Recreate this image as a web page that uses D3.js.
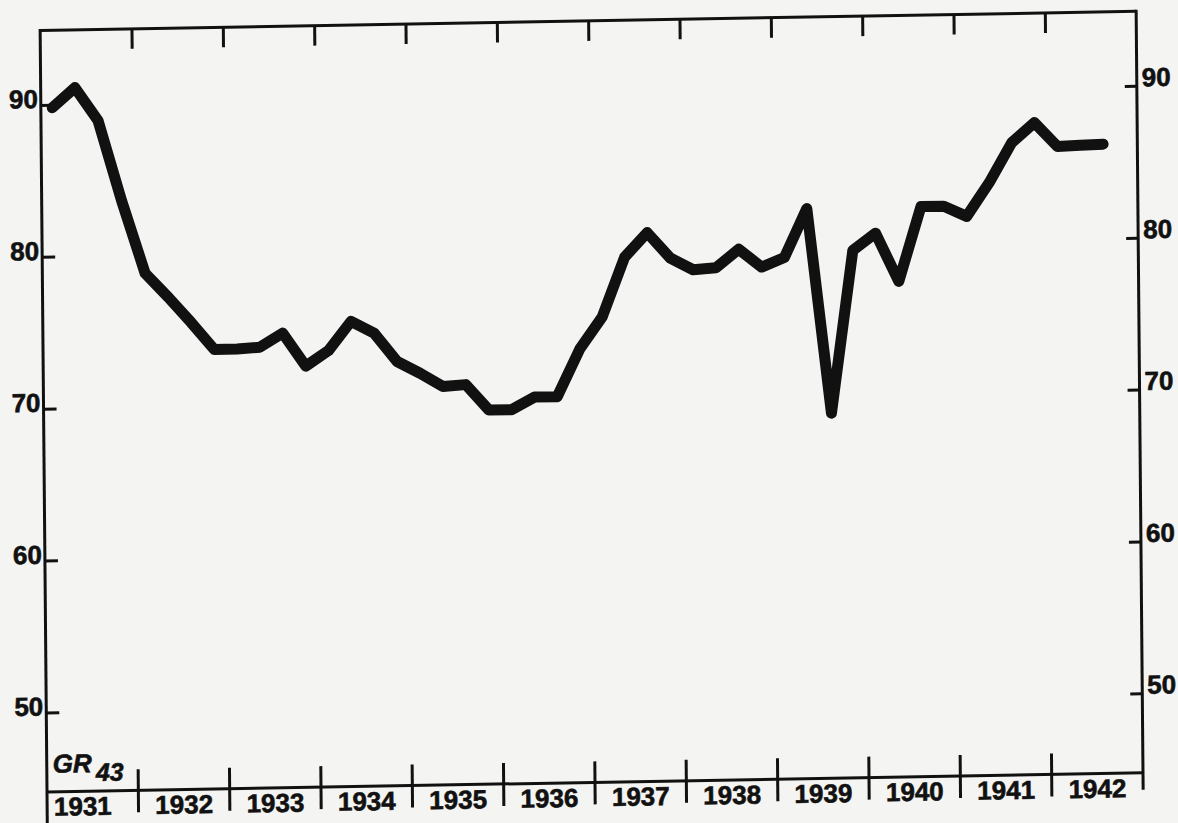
<!DOCTYPE html>
<html>
<head>
<meta charset="utf-8">
<script src="https://cdn.jsdelivr.net/npm/d3@7"></script>
<style>
  html, body { margin: 0; padding: 0; background: #f4f4f2; overflow: hidden; }
  svg { display: block; }
</style>
</head>
<body>
<svg id="chart"></svg>
<script>
// Years on the bottom axis, one row of quarterly values per year
const years = [1931, 1932, 1933, 1934, 1935, 1936, 1937, 1938, 1939, 1940, 1941, 1942];
const quarterValues = [
  [89.8, 91.1, 88.9, 83.6],
  [78.8, 77.2, 75.5, 73.7],
  [73.7, 73.8, 74.7, 72.5],
  [73.5, 75.4, 74.6, 72.7],
  [71.9, 71.0, 71.1, 69.4],
  [69.4, 70.2, 70.2, 73.3],
  [75.4, 79.3, 80.9, 79.2],
  [78.4, 78.5, 79.7, 78.5],
  [79.1, 82.3, 68.8, 79.5],
  [80.6, 77.4, 82.3, 82.3],
  [81.6, 83.8, 86.4, 87.7],
  [86.1, 86.15, 86.2]
];
const yTicks = [50, 60, 70, 80, 90];
const label = "GR";
const labelSub = "43";

const width = 1178, height = 823;
const font = "'Liberation Sans', Arial, sans-serif";
const ink = "#111";

const svg = d3.select("#chart").attr("width", width).attr("height", height);
svg.append("rect").attr("width", width).attr("height", height).attr("fill", "#f4f4f2");

// the scanned drawing is slightly tilted, so everything sits in a sheared group
const g = svg.append("g")
  .attr("transform", "translate(42,792) matrix(1,-0.0174,0.009,1,0,0) translate(-42,-792)");

const x = d3.scaleLinear().domain([1931, 1943]).range([47, 1143]);
const y = d3.scaleLinear().domain([50, 90]).range([712.5, 105]);
const frameTop = 30.5, baseLine = 792;

// frame
g.append("path")
  .attr("d", `M${x(1931)},${frameTop}H${x(1943)}`)
  .attr("stroke", ink).attr("stroke-width", 3).attr("fill", "none");
g.append("path")
  .attr("d", `M${x(1931)},${baseLine}H${x(1943)}`)
  .attr("stroke", ink).attr("stroke-width", 3).attr("fill", "none");
g.append("path")
  .attr("d", `M${x(1931)},${frameTop - 1.5}V${height + 20}`)
  .attr("stroke", ink).attr("stroke-width", 3).attr("fill", "none");
g.append("path")
  .attr("d", `M${x(1943)},${frameTop - 1.5}V${baseLine + 17}`)
  .attr("stroke", ink).attr("stroke-width", 3).attr("fill", "none");

// left scale
const leftAxis = g.append("g")
  .attr("transform", `translate(${x(1931)},0)`)
  .call(d3.axisLeft(y).tickValues(yTicks).tickSize(-13).tickPadding(3));
leftAxis.select(".domain").remove();

// right scale
const rightAxis = g.append("g")
  .attr("transform", `translate(${x(1943)},0)`)
  .call(d3.axisRight(y).tickValues(yTicks).tickSize(-12).tickPadding(5));
rightAxis.select(".domain").remove();

[leftAxis, rightAxis].forEach(ax => {
  ax.attr("font-family", font).attr("font-size", 26).attr("font-weight", "bold");
  ax.selectAll("line").attr("stroke", ink).attr("stroke-width", 3);
  ax.selectAll("text").attr("fill", ink).attr("stroke", ink).attr("stroke-width", 0.6);
});
leftAxis.selectAll("text").attr("dy", "0.1em");
rightAxis.selectAll("text").attr("dy", "0em");

// top ticks at the year boundaries
const topAxis = g.append("g")
  .attr("transform", `translate(0,${frameTop})`)
  .call(d3.axisTop(x).tickValues(years.slice(1)).tickSize(-20).tickFormat(""));
topAxis.select(".domain").remove();
topAxis.selectAll("line").attr("stroke", ink).attr("stroke-width", 3);

// bottom ticks crossing the base line
g.append("g").selectAll("line")
  .data(years.slice(1))
  .join("line")
  .attr("x1", d => x(d)).attr("x2", d => x(d))
  .attr("y1", baseLine - 21).attr("y2", baseLine + 22)
  .attr("stroke", ink).attr("stroke-width", 3);

// year labels
g.append("g").selectAll("text")
  .data(years)
  .join("text")
  .attr("x", d => x(d + 0.5) - (d === 1931 ? 10 : 0))
  .attr("y", baseLine + 24)
  .attr("text-anchor", "middle")
  .attr("font-family", font).attr("font-size", 26).attr("font-weight", "bold")
  .attr("fill", ink).attr("stroke", ink).attr("stroke-width", 0.6)
  .text(d => d);

// GR 43 label
const gr = g.append("text")
  .attr("x", 53).attr("y", 773)
  .attr("font-family", font).attr("font-size", 26).attr("font-weight", "bold")
  .attr("font-style", "italic").attr("fill", ink).attr("stroke", ink).attr("stroke-width", 0.6);
gr.append("tspan").text(label);
gr.append("tspan").attr("dx", 4).attr("dy", 9).attr("font-size", 25).text(labelSub);

// data line, quarterly values at quarter midpoints
const points = [];
years.forEach((yr, i) => {
  quarterValues[i].forEach((v, q) => points.push({ t: yr + (q + 0.5) / 4, v: v }));
});

const line = d3.line().x(d => x(d.t)).y(d => y(d.v));
g.append("path")
  .datum(points)
  .attr("d", line)
  .attr("fill", "none")
  .attr("stroke", ink)
  .attr("stroke-width", 11)
  .attr("stroke-linejoin", "round")
  .attr("stroke-linecap", "round");
</script>
</body>
</html>
